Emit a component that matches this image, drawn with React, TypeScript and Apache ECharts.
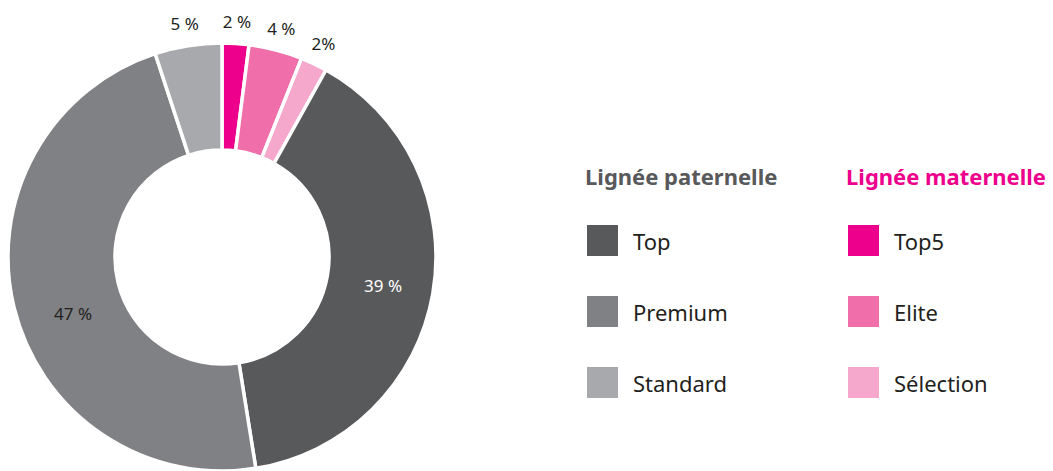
import React, { useEffect, useRef } from "react";
import * as echarts from "echarts";

const categories = ["Top5", "Elite", "Sélection", "Top", "Premium", "Standard"];
const values = [2, 4, 2, 39, 47, 5];
const labelTexts = ["2 %", "4 %", "2%", "39 %", "47 %", "5 %"];
const colors = ["#ec008c", "#f06ea9", "#f5a8cc", "#58595b", "#808184", "#a7a9ac"];
const paternal = ["Top", "Premium", "Standard"];
const maternal = ["Top5", "Elite", "Sélection"];
const insideLabels = ["Top", "Premium"];

const FONT = "'Noto Sans', sans-serif";

export default function App() {
  const ref = useRef<HTMLDivElement>(null);
  useEffect(() => {
    if (!ref.current) return;
    const chart = echarts.init(ref.current, null, { renderer: "svg" });
    const data = categories.map((name, i) => {
      const inside = insideLabels.includes(name);
      return {
        name,
        value: values[i],
        itemStyle: { color: colors[i] },
        label: inside
          ? { position: "inside", color: name === "Top" ? "#ffffff" : "#231f20" }
          : { position: "outside", color: "#231f20" },
      };
    });
    const legendBase = {
      orient: "vertical",
      top: 223,
      padding: 0,
      itemWidth: 33,
      itemHeight: 33,
      itemGap: 36,
      icon: "rect",
      textStyle: { fontSize: 22, color: "#231f20", fontFamily: FONT, padding: [0, 0, 0, 9] },
    };
    chart.setOption({
      animation: false,
      title: [
        {
          text: "Lignée paternelle",
          left: 580,
          top: 160,
          textStyle: { fontSize: 22, fontWeight: "bold", color: "#58595b", fontFamily: FONT },
        },
        {
          text: "Lignée maternelle",
          left: 841,
          top: 160,
          textStyle: { fontSize: 22, fontWeight: "bold", color: "#ec008c", fontFamily: FONT },
        },
      ],
      legend: [
        { ...legendBase, left: 585, data: paternal },
        { ...legendBase, left: 846, data: maternal },
      ],
      series: [
        {
          type: "pie",
          center: [222, 257],
          radius: [107, 214],
          startAngle: 90,
          clockwise: true,
          avoidLabelOverlap: false,
          data,
          itemStyle: { borderColor: "#ffffff", borderWidth: 3.5 },
          label: {
            fontSize: 17,
            fontFamily: FONT,
            distanceToLabelLine: 0,
            formatter: (p: any) => labelTexts[p.dataIndex],
          },
          labelLine: { show: false, length: 22, length2: 0 },
          labelLayout: (p: any) => {
            const name = categories[p.dataIndex];
            if (name === "Premium") return { dx: 10, dy: 18 };
            if (insideLabels.includes(name)) return {};
            return { align: "center", verticalAlign: "middle" };
          },
          emphasis: { disabled: true },
        },
      ],
    });
    return () => chart.dispose();
  }, []);
  return (
    <div
      ref={ref}
      style={{ position: "absolute", left: 0, top: 0, width: 1053, height: 471, background: "#fff" }}
    />
  );
}
